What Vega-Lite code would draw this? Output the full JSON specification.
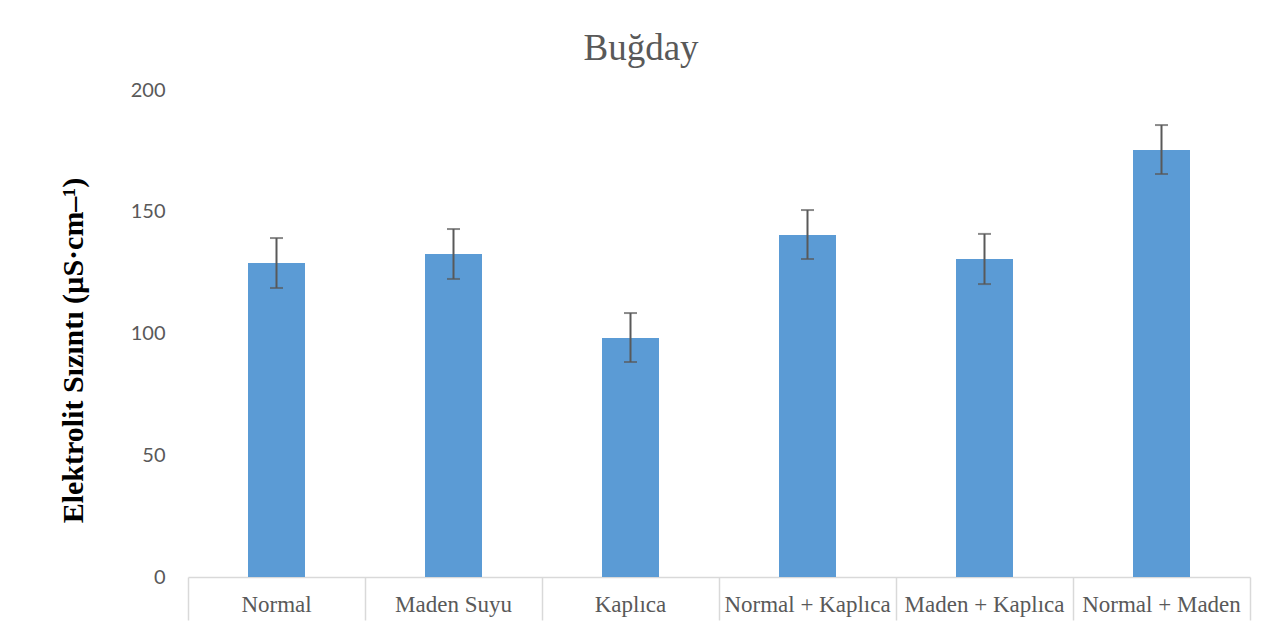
{
  "$schema": "https://vega.github.io/schema/vega-lite/v6.json",
  "width": 1062,
  "height": 487,
  "autosize": {"type": "none"},
  "padding": {"left": 188, "top": 90, "right": 32, "bottom": 64},
  "background": "white",
  "config": {"view": {"stroke": null}},
  "title": {
    "text": "Buğday",
    "font": "Liberation Serif",
    "fontSize": 37,
    "fontWeight": "normal",
    "color": "#595959",
    "anchor": "middle",
    "dx": -78,
    "offset": 12
  },
  "data": {
    "values": [
      {"group": "Normal", "value": 129.0, "lo": 118.7, "hi": 139.2},
      {"group": "Maden Suyu", "value": 132.6, "lo": 122.4, "hi": 142.9},
      {"group": "Kaplıca", "value": 98.2, "lo": 88.3, "hi": 108.4},
      {"group": "Normal + Kaplıca", "value": 140.5, "lo": 130.6, "hi": 150.7},
      {"group": "Maden  + Kaplıca", "value": 130.6, "lo": 120.3, "hi": 140.9},
      {"group": "Normal + Maden", "value": 175.4, "lo": 165.5, "hi": 185.6}
    ]
  },
  "encoding": {
    "x": {
      "field": "group",
      "type": "nominal",
      "sort": null,
      "scale": {"paddingInner": 0, "paddingOuter": 0},
      "axis": {
        "title": null,
        "labelAngle": 0,
        "labelFont": "Liberation Serif",
        "labelFontSize": 23,
        "labelColor": "#595959",
        "labelLimit": 300,
        "labelPadding": -27,
        "domainColor": "#D9D9D9",
        "domainWidth": 1.5,
        "tickColor": "#D9D9D9",
        "tickWidth": 1.5,
        "tickSize": 43,
        "bandPosition": 1,
        "tickExtra": true
      }
    }
  },
  "layer": [
    {
      "mark": {"type": "bar", "size": 57, "color": "#5B9BD5"},
      "encoding": {
        "y": {
          "field": "value",
          "type": "quantitative",
          "scale": {"domain": [0, 200]},
          "axis": {
            "values": [0, 50, 100, 150, 200],
            "title": "Elektrolit Sızıntı (µS·cm–¹)",
            "titleFont": "Liberation Serif",
            "titleFontSize": 30,
            "titleFontWeight": "bold",
            "titleColor": "black",
            "titlePadding": 42,
            "titleY": 260,
            "labelFont": "Lato",
            "labelFontSize": 20,
            "labelColor": "#595959",
            "labelPadding": 23,
            "domain": false,
            "ticks": false,
            "grid": false
          }
        }
      }
    },
    {
      "mark": {"type": "rule", "color": "#595959", "strokeWidth": 2},
      "encoding": {
        "y": {"field": "lo", "type": "quantitative"},
        "y2": {"field": "hi"}
      }
    },
    {
      "mark": {"type": "tick", "color": "#595959", "thickness": 2, "size": 13, "orient": "horizontal"},
      "encoding": {"y": {"field": "lo", "type": "quantitative"}}
    },
    {
      "mark": {"type": "tick", "color": "#595959", "thickness": 2, "size": 13, "orient": "horizontal"},
      "encoding": {"y": {"field": "hi", "type": "quantitative"}}
    }
  ]
}
